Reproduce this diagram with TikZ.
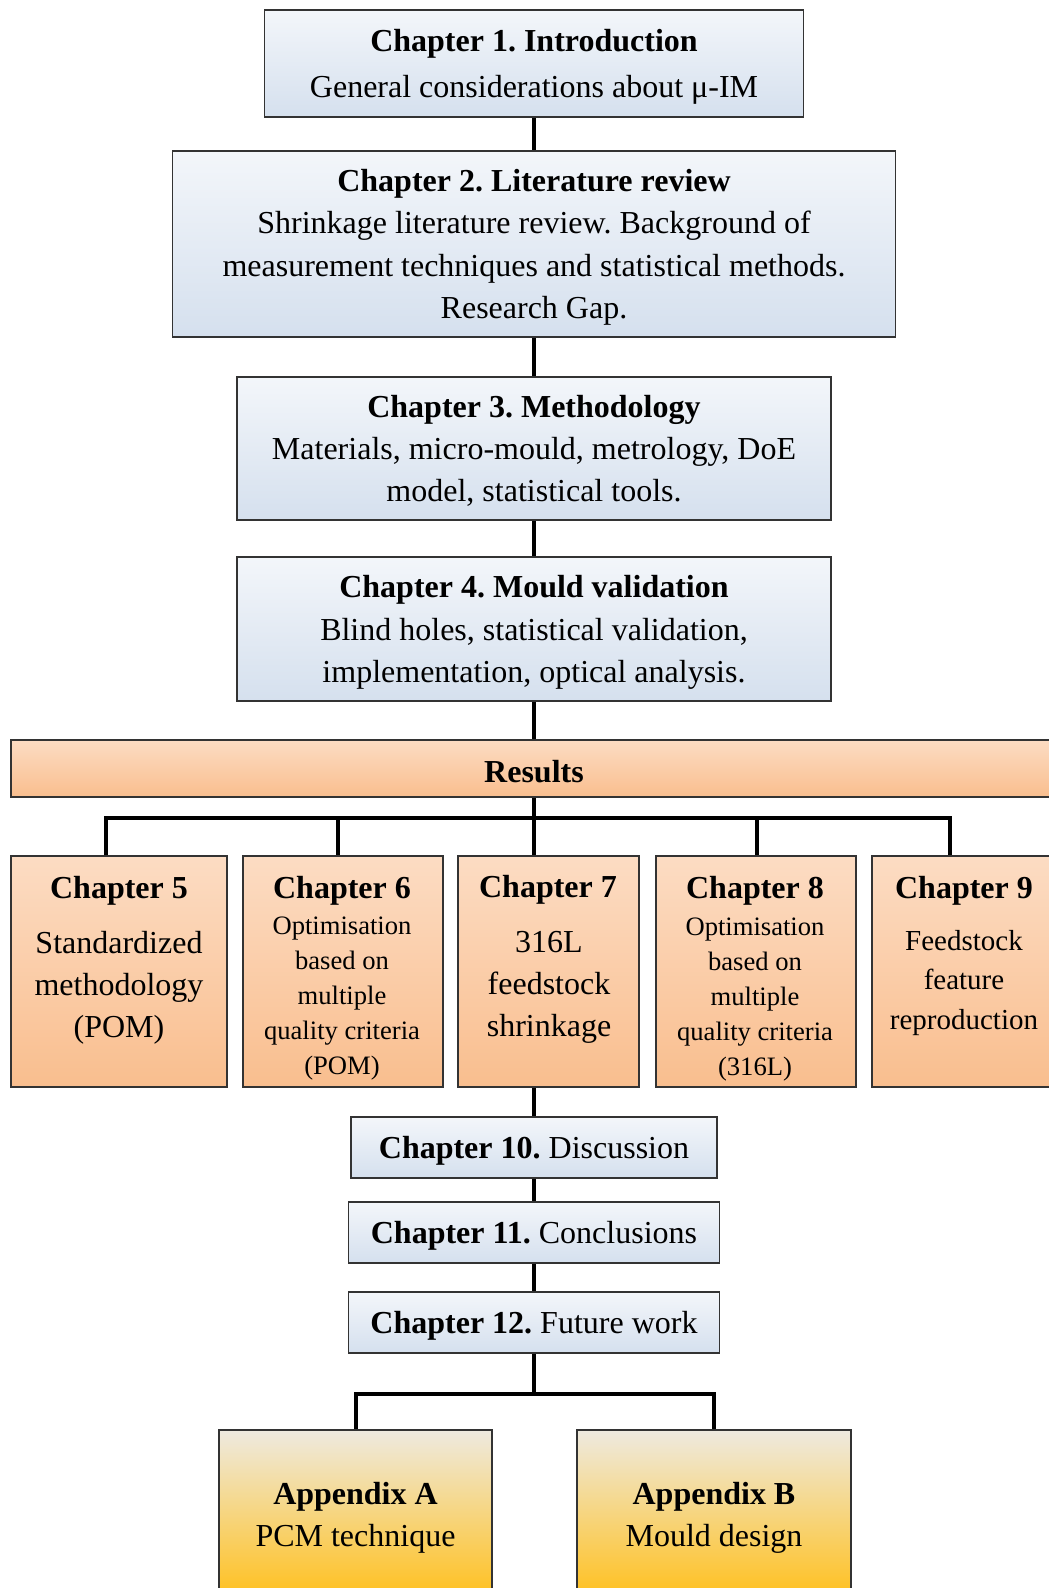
\documentclass[tikz,border=0pt]{standalone}
\usepackage{fontspec}
\setmainfont{Liberation Serif}
\usepackage{xcolor}
\usetikzlibrary{calc}

\definecolor{blueTop}{HTML}{F3F6FA}
\definecolor{blueBot}{HTML}{D5E0EE}
\definecolor{orangeTop}{HTML}{FCDCC3}
\definecolor{orangeBot}{HTML}{F9BE8E}
\definecolor{appTop}{HTML}{EEEAE0}
\definecolor{appBot}{HTML}{FFC01E}

\tikzset{
  link/.style={line width=2pt, draw=black},
  box/.style={rectangle, draw=black!80, line width=0.9pt, inner sep=0pt, align=center,
    font=\fontsize{16}{21.1}\selectfont, execute at begin node={\rule{0pt}{14.5pt}}},
  tallbox/.style={text depth=0pt},
  bluebox/.style={box, top color=blueTop, bottom color=blueBot},
  orangebox/.style={box, top color=orangeTop, bottom color=orangeBot, minimum height=115.5pt},
  appbox/.style={box, tallbox, top color=appTop, bottom color=appBot, minimum width=136.5pt, minimum height=84pt},
  chaptitle/.style={inner sep=0pt, font=\fontsize{16}{21.1}\selectfont\bfseries},
  chapbody/.style={inner sep=0pt, align=center, font=\fontsize{16}{21.1}\selectfont},
  smallbody/.style={inner sep=0pt, align=center, font=\fontsize{13.3}{17.5}\selectfont},
}

\begin{document}
\frenchspacing
\begin{tikzpicture}[x=0.5pt, y=-0.5pt]
\useasboundingbox (0,0) rectangle (1048,1588);

% main chapters
\node [bluebox, tallbox, minimum width=269.5pt, minimum height=53.5pt] (ch1) at (534, 63.5)
  {\textbf{Chapter 1. Introduction}\\[1.5pt]General considerations about μ-IM};
\node [bluebox, tallbox, minimum width=361.5pt, minimum height=93pt] (ch2) at (534, 244)
  {\textbf{Chapter 2. Literature review}\\Shrinkage literature review. Background of\\measurement techniques and statistical methods.\\Research Gap.};
\node [bluebox, tallbox, minimum width=297pt, minimum height=71.5pt] (ch3) at (534, 448.5)
  {\textbf{Chapter 3. Methodology}\\Materials, micro-mould, metrology, DoE\\model, statistical tools.};
\node [bluebox, tallbox, minimum width=297pt, minimum height=72pt] (ch4) at (534, 629)
  {\textbf{Chapter 4. Mould validation}\\Blind holes, statistical validation,\\implementation, optical analysis.};
\node [box, top color=orangeTop, bottom color=orangeBot, minimum width=523pt, minimum height=28.5pt] (results) at (534, 768.5)
  {\textbf{Results}};

% results chapters
\node [orangebox, minimum width=108pt] (ch5) at (119, 971.5) {};
\node [orangebox, minimum width=100pt] (ch6) at (343, 971.5) {};
\node [orangebox, minimum width=90.5pt] (ch7) at (548.5, 971.5) {};
\node [orangebox, minimum width=100pt] (ch8) at (756, 971.5) {};
\node [orangebox, minimum width=92pt] (ch9) at (964, 971.5) {};

\node [chaptitle] (h5) at (119, 891) {Chapter 5};
\node [chaptitle] (h6) at (342, 891) {Chapter 6};
\node [chaptitle] (h7) at (548, 890) {Chapter 7};
\node [chaptitle] (h8) at (755, 891) {Chapter 8};
\node [chaptitle] (h9) at (964, 891) {Chapter 9};

\node [chapbody] (b5) at (119, 987.5) {Standardized\\methodology\\(POM)};
\node [smallbody] (b6) at (342, 999) {Optimisation\\based on\\multiple\\quality criteria\\(POM)};
\node [chapbody] (b7) at (549, 987.5) {316L\\feedstock\\shrinkage};
\node [smallbody] (b8) at (755, 999.5) {Optimisation\\based on\\multiple\\quality criteria\\(316L)};
\node [chapbody, font=\fontsize{14.5}{19.75}\selectfont] (b9) at (964, 983) {Feedstock\\feature\\reproduction};

% closing chapters
\node [bluebox, minimum width=183pt, minimum height=30.5pt] (ch10) at (534, 1147.5)
  {\textbf{Chapter 10.} Discussion};
\node [bluebox, minimum width=185.5pt, minimum height=30.5pt] (ch11) at (534, 1232.5)
  {\textbf{Chapter 11.} Conclusions};
\node [bluebox, minimum width=185.5pt, minimum height=30.5pt] (ch12) at (534, 1322.5)
  {\textbf{Chapter 12.} Future work};

% appendices
\node [appbox] (appA) at (355.5, 1514) {\textbf{Appendix A}\\PCM technique};
\node [appbox, minimum width=137pt] (appB) at (714, 1514) {\textbf{Appendix B}\\Mould design};

% bus points
\coordinate (hub) at (534, 818);
\coordinate (d5) at (106, 818);
\coordinate (d6) at (338, 818);
\coordinate (d8) at (757, 818);
\coordinate (d9) at (950, 818);
\coordinate (abus) at (534, 1394);

\draw [link] (ch1) -- (ch2);
\draw [link] (ch2) -- (ch3);
\draw [link] (ch3) -- (ch4);
\draw [link] (ch4) -- (results);
\draw [link] (results) -- (hub) -- (ch7.north -| hub);
\draw [link] (ch5.north -| d5) |- (d9) -- (ch9.north -| d9);
\draw [link] (d6) -- (ch6.north -| d6);
\draw [link] (d8) -- (ch8.north -| d8);
\draw [link] (ch7.south -| ch10) -- (ch10);
\draw [link] (ch10) -- (ch11);
\draw [link] (ch11) -- (ch12);
\draw [link] (ch12) -- (abus);
\draw [link] (appA.north) |- (abus) -| (appB.north);
\end{tikzpicture}
\end{document}
